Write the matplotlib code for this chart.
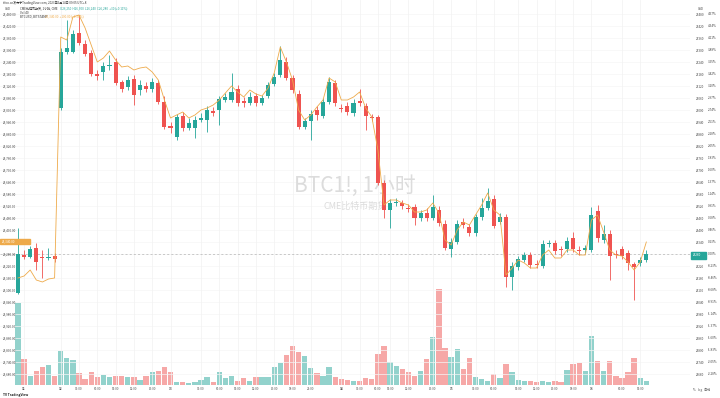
import matplotlib.pyplot as plt
import matplotlib.patches as mpatches
import numpy as np

plt.rcParams['font.family'] = ['Noto Sans CJK SC', 'DejaVu Sans']

# CME BTC1! hourly candles
opens = [26085, 26275, 26265, 26310, 26265, 26260, 26270, 27010, 27290, 27290,
         27385, 27330, 27285, 27180, 27190, 27220, 27240, 27140, 27115, 27155,
         27100, 27120, 27105, 27135, 27040, 26920, 26865, 26970, 26910, 26910,
         26950, 26950, 26995, 27000, 27050, 27050, 27105, 27045, 27035, 27070,
         27035, 27070, 27130, 27175, 27240, 27160, 27080, 26915, 26945, 27000,
         26970, 27040, 27135, 27010, 27020, 26985, 27045, 27020, 26965, 26965,
         26635, 26500, 26535, 26535, 26510, 26515, 26460, 26485, 26460, 26500,
         26430, 26305, 26340, 26440, 26415, 26385, 26465, 26510, 26555, 26440,
         26465, 26165, 26215, 26250, 26275, 26230, 26220, 26330, 26335, 26305,
         26305, 26360, 26300, 26300, 26300, 26495, 26350, 26380, 26280, 26305,
         26285, 26230, 26235, 26250]
highs = [26410, 26300, 26320, 26335, 26300, 26310, 26285, 27310, 27450, 27400,
         27475, 27350, 27300, 27200, 27240, 27275, 27260, 27150, 27170, 27175,
         27150, 27140, 27160, 27150, 27070, 26940, 26980, 26990, 26960, 26970,
         26985, 27020, 27015, 27070, 27085, 27185, 27125, 27065, 27090, 27085,
         27075, 27140, 27185, 27320, 27265, 27175, 27100, 26960, 27000, 27020,
         27060, 27165, 27150, 27030, 27040, 27055, 27105, 27035, 26980, 26975,
         26650, 26555, 26560, 26550, 26530, 26530, 26500, 26510, 26575, 26520,
         26450, 26360, 26450, 26460, 26430, 26480, 26560, 26610, 26575, 26485,
         26480, 26240, 26270, 26290, 26290, 26250, 26350, 26350, 26350, 26320,
         26365, 26390, 26320, 26325, 26515, 26525, 26425, 26400, 26300, 26320,
         26300, 26240, 26265, 26300]
lows = [26080, 26255, 26260, 26200, 26160, 26250, 26240, 27000, 27280, 27285,
        27325, 27270, 27170, 27150, 27150, 27200, 27125, 27090, 27100, 27025,
        27075, 27090, 27090, 27030, 26905, 26885, 26850, 26895, 26900, 26860,
        26940, 26890, 26970, 26925, 27040, 27040, 27020, 27015, 27025, 27020,
        27025, 27060, 27120, 27165, 27150, 27085, 26905, 26905, 26850, 26950,
        26960, 27030, 27020, 26990, 26975, 26970, 27020, 26900, 26945, 26625,
        26460, 26410, 26520, 26505, 26490, 26425, 26445, 26445, 26450, 26420,
        26300, 26265, 26330, 26410, 26370, 26370, 26450, 26500, 26410, 26430,
        26115, 26100, 26200, 26240, 26210, 26210, 26210, 26315, 26280, 26270,
        26290, 26290, 26275, 26285, 26290, 26340, 26335, 26150, 26260, 26255,
        26200, 26050, 26220, 26240]
closes = [26280, 26265, 26305, 26240, 26260, 26265, 26255, 27290, 27310, 27380,
          27335, 27280, 27180, 27170, 27220, 27225, 27135, 27105, 27150, 27075,
          27125, 27105, 27140, 27040, 26915, 26910, 26965, 26910, 26935, 26950,
          26960, 27000, 26985, 27055, 27065, 27090, 27035, 27035, 27065, 27035,
          27060, 27125, 27165, 27250, 27160, 27100, 26915, 26945, 26980, 26975,
          27040, 27140, 27035, 27005, 26990, 27035, 27035, 26970, 26960, 26635,
          26500, 26535, 26540, 26520, 26505, 26460, 26485, 26460, 26515, 26435,
          26310, 26340, 26430, 26425, 26385, 26465, 26510, 26545, 26420, 26465,
          26165, 26220, 26255, 26275, 26225, 26225, 26330, 26335, 26295, 26300,
          26345, 26305, 26295, 26310, 26475, 26360, 26380, 26270, 26275, 26270,
          26235, 26215, 26250, 26280]
# BITSTAMP BTCUSD overlay line
spot = [26160, 26170, 26200, 26150, 26140, 26155, 26160, 27365, 27350, 27465,
        27475, 27410, 27325, 27240, 27260, 27295, 27250, 27215, 27220, 27200,
        27210, 27215, 27190, 27150, 27050, 26960, 26975, 26990, 26960, 26975,
        27000, 27010, 27025, 27050, 27085, 27120, 27090, 27065, 27100, 27080,
        27070, 27110, 27185, 27315, 27240, 27150, 27000, 26950, 26975, 27015,
        27050, 27160, 27140, 27050, 27050, 27065, 27090, 27010, 26965, 26800,
        26525, 26550, 26550, 26535, 26525, 26490, 26490, 26500, 26535, 26485,
        26350, 26325, 26400, 26440, 26425, 26475, 26525, 26585, 26500, 26475,
        26175, 26210, 26250, 26235, 26210, 26210, 26275, 26300, 26260, 26260,
        26300, 26300, 26275, 26275, 26450, 26475, 26390, 26300, 26275, 26270,
        26240, 26200, 26240, 26340]
volume = [820, 260, 90, 140, 180, 200, 90, 340, 270, 250,
          120, 60, 130, 80, 100, 80, 90, 90, 80, 80,
          50, 90, 130, 140, 180, 130, 30, 30, 20, 30,
          50, 80, 30, 130, 70, 90, 40, 70, 40, 80,
          80, 80, 180, 220, 300, 390, 330, 290, 170, 120,
          90, 180, 80, 60, 50, 40, 40, 70, 60, 310,
          390, 230, 190, 160, 130, 90, 140, 260, 480, 960,
          370, 280, 360, 160, 270, 80, 60, 40, 110, 70,
          210, 130, 50, 40, 40, 30, 40, 30, 40, 30,
          150, 210, 220, 140, 490, 240, 140, 240, 90, 70,
          130, 270, 70, 40]

time_pos = [1, 7, 10, 13, 16, 19, 22, 25, 30, 33, 36, 39, 42, 45, 48, 53, 56, 59,
            61, 64, 68, 71, 75, 78, 82, 85, 88, 91, 94, 99, 102]
time_lbl = ['11', '12', '03:00', '06:00', '09:00', '12:00', '15:00', '13', '03:00',
            '06:00', '09:00', '12:00', '15:00', '18:00', '21:00', '14', '03:00',
            '06:00', '09:00', '12:00', '15:00', '15', '03:00', '06:00', '09:00',
            '12:00', '15:00', '18:00', '16', '06:00', '09:00']

GREEN = '#26a69a'
RED = '#ef5350'
GOLD = '#eeaa4a'

W, H = 720, 398
fig = plt.figure(figsize=(7.2, 3.98), dpi=100)
fig.patch.set_facecolor('white')

def fx(x):
    return x / W

def fy(y):
    return 1 - y / H

ax2 = fig.add_axes([0, 13 / H, 690 / W, 385 / H])
ax = fig.add_axes([0, 13 / H, 690 / W, 385 / H], sharex=ax2)
ax.patch.set_visible(False)

idx = np.arange(len(opens))
o = np.array(opens)
c = np.array(closes)
up = c >= o
cols = np.where(up, GREEN, RED)

# volume
ax2.bar(idx, volume, width=0.88, color=cols, alpha=0.5, linewidth=0)
ax2.set_ylim(0, 3850)
ax2.axis('off')

# grid
ticks = np.arange(25680, 27500, 60)
for t in ticks:
    ax.axhline(t, color='#f5f5f5', lw=0.5, zorder=0)
for p in time_pos:
    ax.axvline(p, color='#f1f1f1', lw=0.5, zorder=0)

# watermark
ax.text(0.515, 0.517, 'BTC1!, 1小时', transform=ax.transAxes, fontsize=15,
        color='#dcdcdc', ha='center', va='center', zorder=1)
ax.text(0.515, 0.465, 'CME比特币期货', transform=ax.transAxes, fontsize=6.5,
        color='#dcdcdc', ha='center', va='center', zorder=1)

# candles
ax.vlines(idx, lows, highs, colors=cols, lw=0.6, zorder=3)
body_bot = np.minimum(o, c)
body_h = np.maximum(np.abs(c - o), 4)
ax.bar(idx, body_h, bottom=body_bot, width=0.66, color=cols, linewidth=0, zorder=4)

# spot line
ax.plot(idx, spot, color=GOLD, lw=0.6, zorder=5)

# last price line
ax.axhline(closes[-1], color='#b5b5b5', lw=0.5, ls=(0, (3, 3)), zorder=2)

ax.set_xlim(-2.95, 110.16)
ax.set_ylim(25625, 27550)
for s in ax.spines.values():
    s.set_visible(False)
ax.set_xticks([])
ax.yaxis.tick_right()
rticks = [t for t in ticks if abs(t - closes[-1]) > 25]
ax.set_yticks(rticks)
ax.set_yticklabels([f'{t}' for t in rticks])
ax.tick_params(axis='y', length=0, pad=4, labelsize=2.2, labelcolor='#444')

# left scale and second right column
ytr = ax.get_yaxis_transform()
for t in ticks:
    if abs(t - spot[-1]) > 25:
        ax.text(0.004, t, f'{t:,.2f}', transform=ytr, fontsize=2.2, color='#444',
                va='center', ha='left', zorder=6)
    ax.text(1.026, t, f'{(t / closes[-1] - 1) * 100:.2f}%', transform=ytr,
            fontsize=2.2, color='#444', va='center', ha='left', clip_on=False)

# last value labels
fig.patches.append(mpatches.Rectangle((fx(0), fy(244)), fx(30), 5 / H,
                                      transform=fig.transFigure, color=GOLD))
fig.text(fx(2), fy(241.5), f'{spot[-1]:,.2f}', fontsize=2.2, color='white', va='center')
fig.patches.append(mpatches.Rectangle((fx(691), fy(259)), fx(15), 7 / H,
                                      transform=fig.transFigure, color=GREEN))
fig.text(fx(693), fy(255.5), f'{closes[-1]}', fontsize=2.2, color='white', va='center')

# time axis
for p, lb in zip(time_pos, time_lbl):
    x = ax.transData.transform((p, 0))[0] / fig.dpi / 7.2
    fig.text(x, fy(389.5), lb, fontsize=2.2, color='#555', ha='center', va='center',
             fontweight='bold' if ':' not in lb else 'normal')

# header
fig.text(fx(3), fy(3), 'tfoo.cn发布于TradingView.com, 2023年6月14日 09:05 UTC+8',
         fontsize=2.2, color='#333', va='center')
fig.text(fx(5), fy(8.5), 'USD', fontsize=2.2, color='#444', va='center')
fig.text(fx(698), fy(8.5), 'USD', fontsize=2.2, color='#444', va='center')
fig.text(fx(20), fy(8.5), 'CME比特币期货, 1小时, CME', fontsize=2.2, color='#333', va='center')
fig.text(fx(60), fy(8.5), f'O{opens[-1]:,}  H{highs[-1]:,}  L{lows[-1]:,}  C{closes[-1]:,}  +30 (+0.11%)',
         fontsize=2.2, color=GREEN, va='center')
fig.text(fx(20), fy(12.5), f'Vol {volume[-1]}', fontsize=2.2, color='#333', va='center')
fig.text(fx(20), fy(16.5), 'BTCUSD, BITSTAMP', fontsize=2.2, color='#333', va='center')
fig.text(fx(45), fy(16.5), f'{spot[-1]:,.2f}  +100.00 (+0.38%)', fontsize=2.2, color=GOLD, va='center')

# footer
fig.text(fx(3), fy(395), 'TV TradingView', fontsize=2.4, color='#222', va='center', fontweight='bold')
fig.text(fx(693), fy(389.5), '%   log   自动', fontsize=2.2, color='#555', va='center')

fig.savefig('out.png', dpi=100, facecolor='white')
